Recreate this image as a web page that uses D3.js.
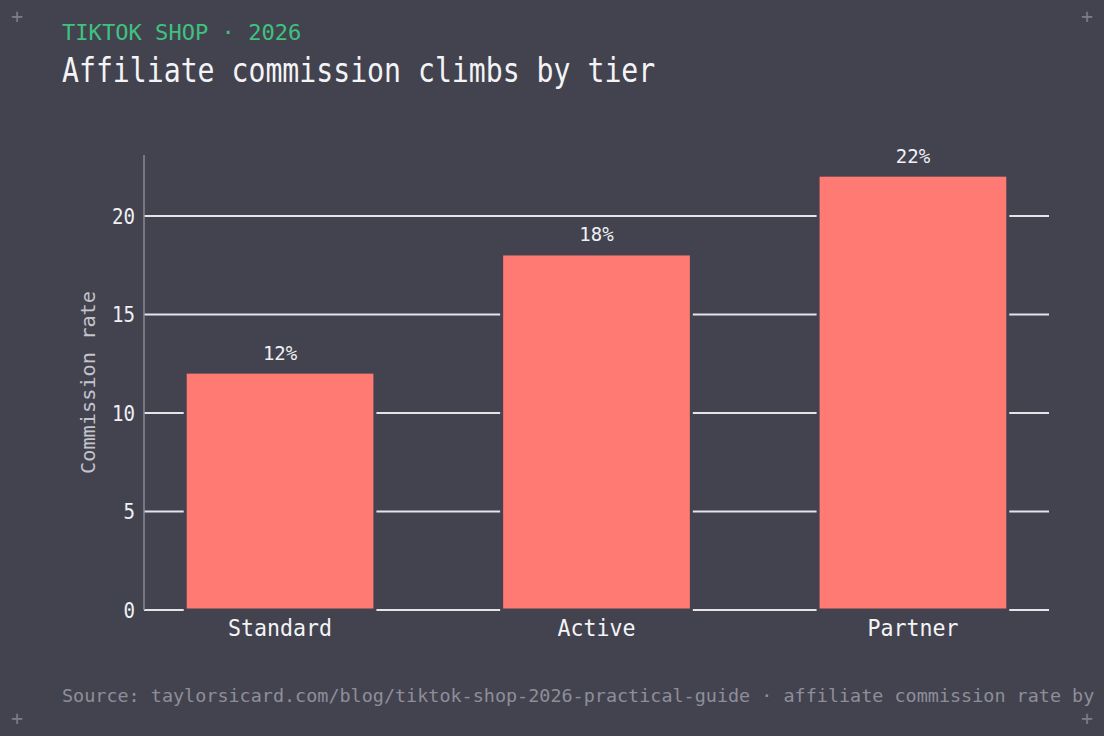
<!DOCTYPE html>
<meta charset="utf-8">
<head>
  <script src="https://d3js.org/d3.v7.min.js"></script>
  <style>
    body { margin: 0; background: #434350; }
    svg text { font-family: "DejaVu Sans Mono", "Liberation Mono", monospace; }
  </style>
</head>
<body>
  <div id="chart"></div>
  <script>
    var tiers = ["Standard", "Active", "Partner"];
    var rates = [12, 18, 22];
    var yTicks = [0, 5, 10, 15, 20];

    var W = 1104, H = 736;
    var bg = "#434350";
    var margin = { top: 155, right: 55, bottom: 126, left: 144 },
      width = W - margin.left - margin.right,
      height = H - margin.top - margin.bottom;

    // the reference face is a narrow mono, so squeeze DejaVu a little
    var narrow = function (sel, perChar) {
      sel.attr("textLength", function () { return this.textContent.length * perChar; })
        .attr("lengthAdjust", "spacingAndGlyphs");
    };

    var root = d3.select("#chart").append("svg")
      .attr("width", W).attr("height", H)
      .style("display", "block");

    root.append("rect").attr("width", W).attr("height", H).attr("fill", bg);

    // corner marks
    [[17, 17], [W - 17, 17], [17, H - 17], [W - 17, H - 17]].forEach(function (p) {
      root.append("text").attr("x", p[0]).attr("y", p[1] + 6)
        .attr("text-anchor", "middle")
        .style("font-size", "20px").style("fill", "#7c7c88")
        .text("+");
    });

    root.append("text").attr("x", 62).attr("y", 40)
      .style("font-size", "21px").style("fill", "#3ec27e")
      .text("TIKTOK SHOP · 2026")
      .call(narrow, 13.3);

    root.append("text").attr("x", 62).attr("y", 82)
      .style("font-size", "33px").style("fill", "#f4f4f6")
      .style("font-weight", "500")
      .text("Affiliate commission climbs by tier")
      .call(narrow, 16.95);

    root.append("text").attr("x", 62).attr("y", 702)
      .style("font-size", "18.4px").style("fill", "#8e8e99")
      .text("Source: taylorsicard.com/blog/tiktok-shop-2026-practical-guide · affiliate commission rate by")
      .call(narrow, 11.1);

    var svg = root.append("g")
      .attr("transform", "translate(" + margin.left + "," + margin.top + ")");

    var x = d3.scaleBand().domain(tiers).range([0, width])
      .paddingInner(0.41).paddingOuter(0.135);

    var y = d3.scaleLinear().domain([0, d3.max(rates) * 1.05]).range([height, 0]);

    // gridlines
    svg.append("g").selectAll("line").data(yTicks).enter().append("line")
      .attr("x1", 0).attr("x2", width)
      .attr("y1", function (d) { return y(d); }).attr("y2", function (d) { return y(d); })
      .style("stroke", "#e4e4ea").style("stroke-width", 2);

    // left axis line
    svg.append("line").attr("x1", 0).attr("x2", 0).attr("y1", 0).attr("y2", height)
      .style("stroke", "#8a8a96").style("stroke-width", 1.5);

    // y tick labels
    svg.append("g").selectAll("text").data(yTicks).enter().append("text")
      .attr("x", -9).attr("y", function (d) { return y(d); })
      .attr("dy", "0.36em").attr("text-anchor", "end")
      .style("font-size", "22px").style("fill", "#f0f0f4")
      .text(function (d) { return d; })
      .call(narrow, 11.5);

    // bars
    svg.append("g").selectAll("rect").data(rates).enter().append("rect")
      .attr("x", function (d, i) { return x(tiers[i]) - 1.5; })
      .attr("y", function (d) { return y(d) - 1.5; })
      .attr("width", x.bandwidth() + 3)
      .attr("height", function (d) { return height - y(d) + 1.5; })
      .style("fill", "#ff7a72")
      .style("stroke", bg).style("stroke-width", 3);

    // value labels
    svg.append("g").selectAll("text").data(rates).enter().append("text")
      .attr("x", function (d, i) { return x(tiers[i]) + x.bandwidth() / 2; })
      .attr("y", function (d) { return y(d) - 14; })
      .attr("text-anchor", "middle")
      .style("font-size", "19px").style("fill", "#f0f0f4")
      .text(function (d) { return d + "%"; });

    // x tick labels
    svg.append("g").selectAll("text").data(tiers).enter().append("text")
      .attr("x", function (d) { return x(d) + x.bandwidth() / 2; })
      .attr("y", height + 26)
      .attr("text-anchor", "middle")
      .style("font-size", "23px").style("fill", "#f4f4f6")
      .text(function (d) { return d; })
      .call(narrow, 13);

    // y axis title
    svg.append("text")
      .attr("transform", "translate(-49," + (height / 2) + ") rotate(-90)")
      .attr("text-anchor", "middle")
      .style("font-size", "20px").style("fill", "#c4c4cc")
      .text("Commission rate")
      .call(narrow, 12.2);
  </script>
</body>
